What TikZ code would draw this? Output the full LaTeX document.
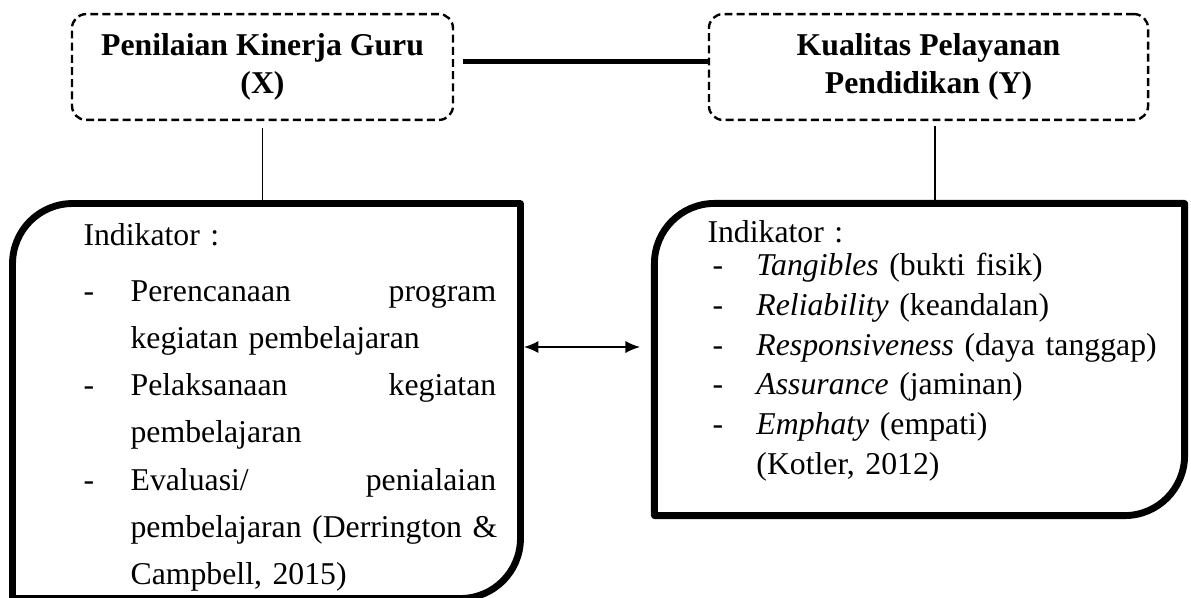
\documentclass[tikz,border=0pt]{standalone}
\usepackage{fontspec}
\setmainfont{Liberation Serif}
\usepackage{tikz}
\usetikzlibrary{arrows.meta}

\tikzset{
  varbox/.style={draw, dash pattern=on 3pt off 1.6pt, line width=0.9pt,
    rounded corners=5.3pt, minimum height=40pt, align=center,
    font=\bfseries\fontsize{12}{14.4}\selectfont},
  indbox/.style={inner sep=0pt},
  tebal/.style={line width=2.6pt, line join=round},
  teksX/.style={inner sep=0pt, text width=156pt, font=\fontsize{12}{17.8}\selectfont},
  teksY/.style={inner sep=0pt, text width=180pt, font=\fontsize{12}{15}\selectfont},
}

% butir daftar
\newcommand{\butirX}{\makebox[17.8pt][l]{-}}
\newcommand{\lanjutX}{\hspace*{17.8pt}}
\newcommand{\butirY}{\hspace*{1.9pt}\makebox[16.6pt][l]{-}}
\newcommand{\lanjutY}{\hspace*{18.5pt}}
% kotak dengan sudut kiri atas dan kanan bawah melengkung
\newcommand{\kotakind}[1]{%
  \draw[tebal] (#1.south west) -- ([yshift=-22.7pt]#1.north west)
    arc[start angle=180, end angle=90, radius=22.7pt] -- (#1.north east)
    -- ([yshift=22.7pt]#1.south east)
    arc[start angle=0, end angle=-90, radius=22.7pt] -- cycle;}

\begin{document}
\begin{tikzpicture}[x=0.378pt, y=-0.378pt]
            \useasboundingbox (0,0) rectangle (1191,597);

            %Variabel X dan Y
            \node[varbox, minimum width=144pt] (varX) at (262.5,67) {Penilaian Kinerja Guru\\(X)};
            \node[varbox, minimum width=166pt] (varY) at (928.5,67) {Kualitas Pelayanan\\Pendidikan (Y)};

            %Garis penghubung X -- Y
            \draw[line width=1.9pt, shorten <=3.4pt] ([yshift=1.9pt]varX.east) -- ([yshift=1.9pt]varY.west);

            %Kotak indikator
            \node[indbox, minimum width=191.6pt, minimum height=148.9pt] (indX) at (266.5,401) {};
            \node[indbox, minimum width=200pt, minimum height=117.6pt] (indY) at (919.5,359.5) {};
            \kotakind{indX}
            \kotakind{indY}

            %Garis ke indikator
            \draw[line width=0.5pt, shorten <=2.6pt] (varX.south) -- (varX.south |- indX.north);
            \draw[line width=0.5pt, shorten <=2pt] ([xshift=2.5pt]varY.south) -- ([xshift=2.5pt]varY.south |- indY.north);

            %Panah dua arah
            \coordinate (ujung) at (640,347);
            \draw[{Latex[length=5.5pt,width=4.6pt]}-{Latex[length=5.5pt,width=4.6pt]}, line width=0.6pt, shorten <=1.3pt]
                (indX.east |- ujung) -- (ujung);

            %Isi indikator X
            \node[teksX, anchor=north west] (isiX) at (83,223) {%
                Indikator :\\[3.4pt]
                \butirX Perencanaan\hfill program\\
                \lanjutX kegiatan pembelajaran\\
                \butirX Pelaksanaan\hfill kegiatan\\
                \lanjutX pembelajaran\\
                \butirX Evaluasi/\hfill penialaian\\
                \lanjutX\makebox[138pt][s]{pembelajaran (Derrington \&}\\
                \lanjutX Campbell, 2015)};

            %Isi indikator Y
            \node[teksY, anchor=north west] (isiY) at (707,220) {%
                Indikator :\\[-2.5pt]
                \butirY \textit{Tangibles} (bukti fisik)\\
                \butirY \textit{Reliability} (keandalan)\\
                \butirY \textit{Responsiveness} (daya tanggap)\\
                \butirY \textit{Assurance} (jaminan)\\
                \butirY \textit{Emphaty} (empati)\\
                \lanjutY (Kotler, 2012)};

\end{tikzpicture}
\end{document}
